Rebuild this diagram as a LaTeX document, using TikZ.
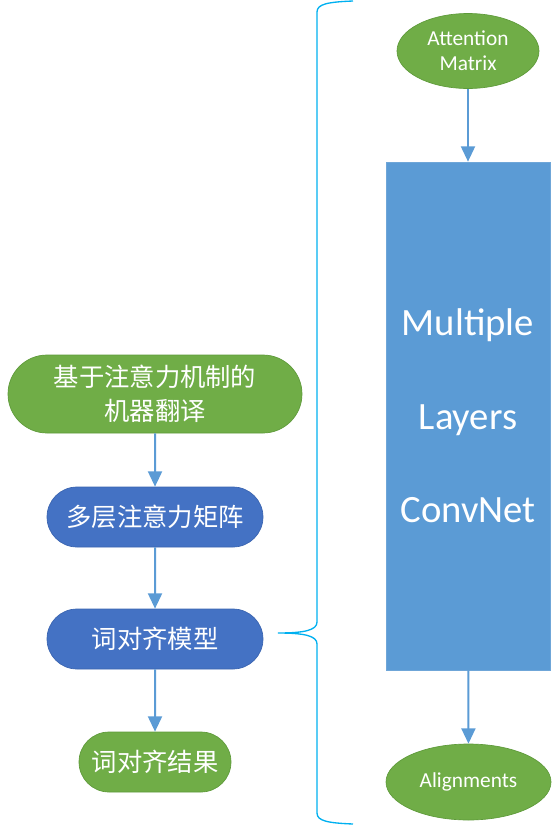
\documentclass[tikz,border=0pt]{standalone}
\usepackage{fontspec}
\setmainfont{Carlito}
\newfontfamily\cjk{Noto Sans CJK SC}
\usetikzlibrary{shapes.geometric,arrows.meta}
\definecolor{ogreen}{HTML}{70AD47}
\definecolor{ogreenb}{HTML}{5E9A3A}
\definecolor{oblue}{HTML}{4472C4}
\definecolor{obluebd}{HTML}{3A64B0}
\definecolor{lblue}{HTML}{5B9BD5}
\definecolor{lblueb}{HTML}{6FA6D8}
\definecolor{bracec}{HTML}{00B0F0}
\tikzset{
  pill/.style={rounded rectangle, draw, line width=0.5pt, text=white, inner sep=0pt, align=center,
    font=\cjk\fontsize{19}{25.5}\selectfont},
  gpill/.style={pill, fill=ogreen, draw=ogreenb},
  bpill/.style={pill, fill=oblue, draw=obluebd},
  gell/.style={ellipse, fill=ogreen, draw=ogreenb, line width=0.5pt, text=white, inner sep=0pt, align=center,
    font=\fontsize{16}{18.75}\selectfont},
  conn/.style={draw=lblue, line width=1.5pt, -{Triangle[width=10.5pt,length=11.5pt]}},
  bracestyle/.style={draw=bracec, line width=1pt}
}
\usetikzlibrary{shapes.misc}
\begin{document}
\begin{tikzpicture}[x=0.75pt,y=-0.75pt]
\useasboundingbox (0,0) rectangle (560,832);
% left flow
\node[gpill, minimum width=220.5pt, minimum height=58.5pt] (n1) at (155,394) {基于注意力机制的\\机器翻译};
\node[bpill, minimum width=162pt, minimum height=45pt] (n2) at (155,517) {多层注意力矩阵};
\node[bpill, minimum width=162pt, minimum height=45pt] (n3) at (155,639) {词对齐模型};
\node[gpill, minimum width=114pt, minimum height=45pt] (n4) at (155,762) {词对齐结果};
\draw[conn] (n1) -- (n2);
\draw[conn] (n2) -- (n3);
\draw[conn] (n3) -- (n4);
% right flow
\node[gell, minimum width=106.5pt, minimum height=56.25pt] (am) at (468,51) {Attention\\Matrix};
\node[rectangle, fill=lblue, draw=lblueb, line width=0.5pt, text=white, align=center,
  minimum width=123pt, minimum height=381pt, inner sep=0pt,
  font=\fontsize{29}{70}\selectfont] (ml) at (468,416) {Multiple\\Layers\\ConvNet};
\node[gell, minimum width=123.75pt, minimum height=57pt] (al) at (468.5,782) {Alignments};
\draw[conn] (am) -- (ml);
\draw[conn] (ml) -- (al);
% brace
\coordinate (btop) at (353,1);
\coordinate (btip) at (278,633);
\coordinate (bbot) at (353,824);
\draw[bracestyle] (btop) .. controls (328,2) and (317,4) .. (317,12)
  -- (317,622) .. controls (317,630) and (305,633) .. (btip)
  .. controls (305,633) and (317,636) .. (317,644)
  -- (317,813) .. controls (317,821) and (328,823) .. (bbot);
\end{tikzpicture}
\end{document}
